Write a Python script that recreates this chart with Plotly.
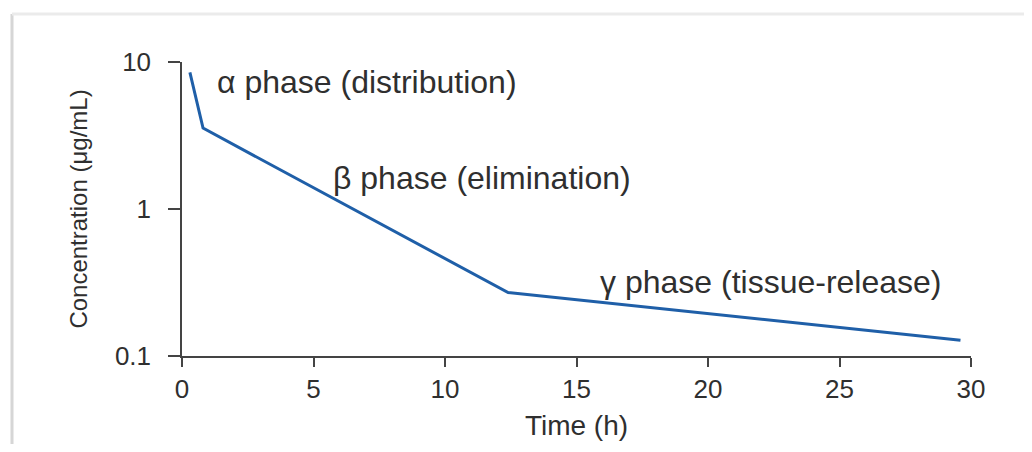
import plotly.graph_objects as go
import math

# Data (time in h, concentration in ug/mL)
time_h = [0.3, 0.8, 12.4, 29.6]
conc = [8.5, 3.55, 0.27, 0.128]

x_ticks = [0, 5, 10, 15, 20, 25, 30]
y_ticks = [0.1, 1, 10]
y_ticktext = ["0.1", "1", "10"]

phase_labels = ["\u03b1 phase (distribution)", "\u03b2 phase (elimination)", "\u03b3 phase (tissue-release)"]
phase_x = [1.25, 5.67, 15.8]
phase_y = [7.3, 1.63, 0.318]

# page offset of the figure (browser body margin); figure sized to avoid scrollbars
OFF = 8
W, H = 1016, 436
L, T = 182 - OFF, 62 - OFF
R = W - (971 - OFF)
B = H - (356 - OFF)
pw, ph = W - L - R, H - T - B

TXT = "#2f2f2f"
FONT = "Liberation Sans, Arial, Helvetica, sans-serif"

fig = go.Figure()
fig.add_trace(go.Scatter(
    x=time_h, y=conc, mode="lines",
    line=dict(color="#1f5fa8", width=3),
    hoverinfo="skip", showlegend=False,
))

for lab, xx, yy in zip(phase_labels, phase_x, phase_y):
    fig.add_annotation(
        x=xx, y=math.log10(yy), xref="x", yref="y", text=lab,
        showarrow=False, xanchor="left", yanchor="middle",
        font=dict(family=FONT, size=32, color=TXT),
    )

def px(xpage):
    return (xpage - OFF - L) / pw

def py(ypage):
    return (H - B - (ypage - OFF)) / ph

# light frame lines (left and top) as in the reference
fig.add_shape(type="line", xref="paper", yref="paper",
              x0=px(12), x1=px(12), y0=py(460), y1=py(14),
              line=dict(color="#d6d6d6", width=3), layer="below")
fig.add_shape(type="line", xref="paper", yref="paper",
              x0=px(12), x1=px(1040), y0=py(14), y1=py(14),
              line=dict(color="#ebebeb", width=3), layer="below")

fig.update_layout(
    width=W, height=H,
    margin=dict(l=L, r=R, t=T, b=B, autoexpand=False),
    paper_bgcolor="white", plot_bgcolor="white",
    font=dict(family=FONT, color=TXT),
    xaxis=dict(
        range=[0, 30], tickvals=x_ticks, ticks="outside", ticklen=9, tickwidth=1.5,
        tickcolor="#444", showline=True, linecolor="#444", linewidth=1.5,
        showgrid=False, zeroline=False, tickfont=dict(size=26, color=TXT),
        title=dict(text="Time (h)", font=dict(size=28, color=TXT), standoff=12),
        automargin=False,
    ),
    yaxis=dict(
        type="log", range=[-1, 1], tickvals=y_ticks, ticktext=y_ticktext,
        ticks="outside", ticklen=12, tickwidth=1.5, tickcolor="#444",
        showline=True, linecolor="#444", linewidth=1.5, showgrid=False, zeroline=False,
        tickfont=dict(size=26, color=TXT), ticklabelstandoff=12,
        title=dict(text="Concentration (\u03bcg/mL)", font=dict(size=24, color=TXT), standoff=20),
        automargin=False,
    ),
)

fig.write_html("out.html")
